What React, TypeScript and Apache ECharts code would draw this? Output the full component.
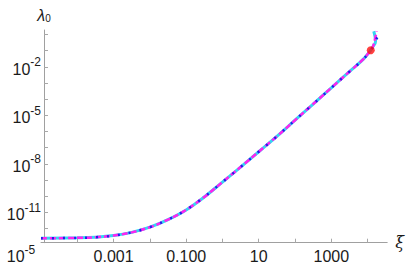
import React, { useEffect, useRef } from "react";
import * as echarts from "echarts";

// shared part of the three curves
const xiValues = [1e-5, 1e-4, 3.16e-4, 1e-3, 3.16e-3, 0.01, 0.0316, 0.1, 0.316, 1, 3.16, 10, 31.6, 100, 316, 1000, 3160, 7410, 12200, 13800];
const lambdaValues = [2.45e-13, 2.63e-13, 2.88e-13, 3.63e-13, 5.75e-13, 1.2e-12, 3.55e-12, 1.41e-11, 8.9e-11, 7.4e-10, 6.3e-9, 5.6e-8, 5.0e-7, 5.0e-6, 5.0e-5, 5.0e-4, 5.1e-3, 2.8e-2, 0.107, 0.166];

// diverging ends of each curve
const cyanTailXi = [16600, 14800];
const cyanTailLambda = [0.39, 1.6];
const magentaTailXi = [15800, 17800];
const magentaTailLambda = [0.45, 1.6];
const blueTailXi = [21900];
const blueTailLambda = [1.6];

// red marker
const markerXi = [12200];
const markerLambda = [0.107];

// axis ranges (decades) and ticks / labels (decade exponents)
const xRange = [-5, 4.54];
const yRange = [-12.88, 0.28];
const xTickExps = [-4, -3, -2, -1, 0, 1, 2, 3, 4];
const xLabelExps = [-5, -3, -1, 1, 3];
const xLabelTexts = ["10^-5", "0.001", "0.100", "10", "1000"];
const yTickExps = [-12, -11, -10, -9, -8, -7, -6, -5, -4, -3, -2, -1, 0];
const yLabelExps = [-2, -5, -8, -11];

const FONT = "'Liberation Sans', Arial, sans-serif";

function logPairs(xs: number[], ys: number[]) {
  return xs.map((x, i) => [Math.log10(x), Math.log10(ys[i])]);
}

function toRich(t: string, first: boolean) {
  if (t.includes("^")) {
    const [b, e] = t.split("^");
    return `{b|${b}}{s|${e}}` + (first ? "{p|}" : "");
  }
  return `{b|${t}}`;
}

const richStyles = {
  b: { fontSize: 16, fontFamily: FONT, color: "#1a1a1a", verticalAlign: "bottom", lineHeight: 21 },
  s: { fontSize: 12, fontFamily: FONT, color: "#1a1a1a", verticalAlign: "top", lineHeight: 21 },
  p: { width: 40, lineHeight: 21 },
};

export default function App() {
  const ref = useRef<HTMLDivElement>(null);
  useEffect(() => {
    document.body.style.margin = "0";
    const chart = echarts.init(ref.current!, null, { renderer: "svg" });
    const base = logPairs(xiValues, lambdaValues);
    const axisColor = "#a0a0a0";
    const tickColor = "#a8a8a8";
    chart.setOption({
      animation: false,
      grid: { left: 41, right: 12, top: 30, bottom: 28.3 },
      xAxis: {
        type: "value",
        min: xRange[0],
        max: xRange[1],
        name: "ξ",
        nameLocation: "end",
        nameGap: 8,
        nameTextStyle: { fontSize: 16, fontStyle: "italic", fontFamily: "'DejaVu Serif', serif", color: "#1a1a1a", padding: [0, 0, 9, 0] },
        axisLine: { onZero: false, lineStyle: { color: axisColor, width: 1 } },
        axisTick: { show: true, inside: true, length: 4, customValues: xTickExps, lineStyle: { color: tickColor, width: 1 } },
        axisLabel: {
          customValues: xLabelExps,
          margin: 1,
          formatter: (v: number) => {
            const i = xLabelExps.findIndex((q) => Math.abs(q - v) < 1e-6);
            return i >= 0 ? toRich(xLabelTexts[i], i === 0) : "";
          },
          rich: richStyles,
        },
        splitLine: { show: false },
      },
      yAxis: {
        type: "value",
        min: yRange[0],
        max: yRange[1],
        offset: -3,
        name: "{l|λ}{sub|0}",
        nameLocation: "end",
        nameGap: 7,
        nameTextStyle: {
          rich: {
            l: { fontSize: 16, fontStyle: "italic", fontFamily: FONT, color: "#1a1a1a", verticalAlign: "top", lineHeight: 16 },
            sub: { fontSize: 10, fontFamily: FONT, color: "#1a1a1a", verticalAlign: "bottom", lineHeight: 16 },
          },
        },
        axisLine: { show: true, onZero: false, lineStyle: { color: axisColor, width: 1 } },
        axisTick: { show: true, inside: true, length: 4, customValues: yTickExps, lineStyle: { color: tickColor, width: 1 } },
        axisLabel: {
          customValues: yLabelExps,
          margin: 3,
          formatter: (v: number) => `{b|10}{s|${Math.round(v)}}`,
          rich: richStyles,
        },
        splitLine: { show: false },
      },
      series: [
        {
          type: "line",
          data: [...base, ...logPairs(cyanTailXi, cyanTailLambda)],
          showSymbol: false,
          smooth: 0.4,
          lineStyle: { color: "#33d6f2", width: 3 },
          z: 2,
        },
        {
          type: "line",
          data: [...base, ...logPairs(magentaTailXi, magentaTailLambda)],
          showSymbol: false,
          smooth: 0.4,
          lineStyle: { color: "#ff22ee", width: 2.5, type: [6, 3] },
          z: 3,
        },
        {
          type: "line",
          data: [...base, ...logPairs(blueTailXi, blueTailLambda)],
          showSymbol: false,
          smooth: 0.4,
          lineStyle: { color: "#2020e8", width: 2.5, type: [2, 9] },
          z: 4,
        },
        {
          type: "scatter",
          data: logPairs(markerXi, markerLambda),
          symbolSize: 8,
          itemStyle: { color: "#ff1010" },
          z: 5,
        },
      ],
    });
    return () => chart.dispose();
  }, []);
  return <div ref={ref} style={{ width: 407, height: 271 }} />;
}
